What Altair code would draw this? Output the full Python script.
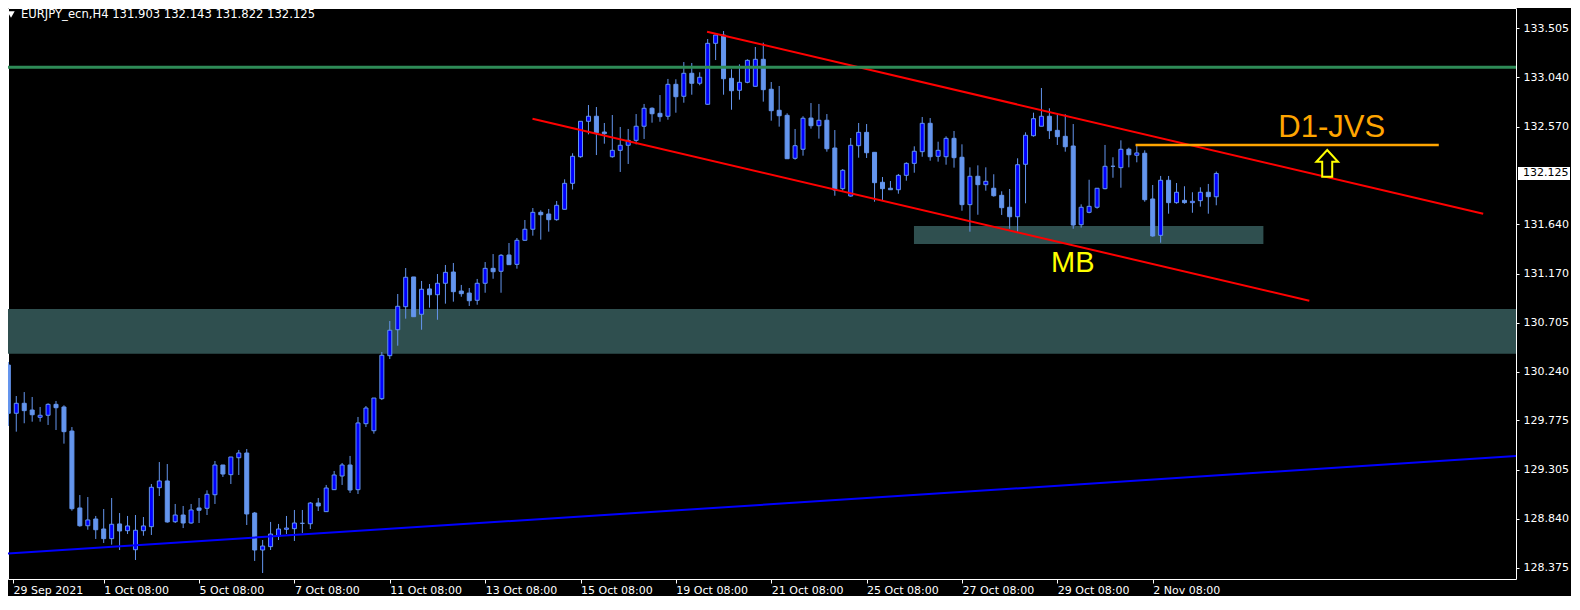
import altair as alt
import pandas as pd

# ---- candle data (EURJPY H4), index 0 = leftmost bar ----
opens = [130.302,129.843,129.938,129.874,129.805,129.824,129.928,129.903,129.674,128.942,
         128.773,128.837,128.742,128.650,128.790,128.726,128.545,128.726,128.764,129.135,
         129.199,128.811,128.875,128.799,128.942,128.939,129.068,129.351,129.259,129.420,
         129.465,128.894,128.542,128.574,128.675,128.739,128.745,128.796,128.792,128.989,
         128.907,129.116,129.246,129.351,129.116,129.744,129.677,129.982,130.391,130.638,
         130.857,131.140,130.785,131.026,130.971,131.080,131.187,131.006,130.987,130.918,
         131.080,131.222,131.194,131.349,131.260,131.489,131.594,131.755,131.739,131.685,
         131.784,132.031,132.284,132.621,132.669,132.519,132.284,132.345,132.393,132.440,
         132.574,132.745,132.697,132.669,132.973,132.859,133.078,132.983,132.783,133.363,
         133.442,133.030,132.916,132.992,132.954,133.211,132.926,132.726,132.678,132.269,
         132.355,132.652,132.579,132.631,132.367,131.980,131.910,132.389,132.516,132.326,
         132.041,131.984,131.970,132.107,132.221,132.332,132.602,132.288,132.284,132.459,
         132.279,131.828,132.098,132.018,131.984,131.917,131.803,131.713,132.212,132.484,
         132.574,132.669,132.535,132.478,132.386,131.637,131.755,131.803,131.980,132.193,
         132.180,132.355,132.298,132.317,131.882,131.536,132.060,131.847,131.869,131.847,
         131.866,131.946,131.903]
highs = [130.331,130.007,130.045,129.998,129.903,129.938,129.960,129.919,129.712,129.065,
         129.046,128.866,128.932,129.037,128.894,128.866,128.875,128.856,129.170,129.379,
         129.360,128.980,128.961,128.980,129.037,129.110,129.389,129.351,129.427,129.494,
         129.503,128.904,128.637,128.809,128.790,128.866,128.923,128.923,128.999,129.037,
         129.161,129.294,129.370,129.437,129.808,129.912,129.988,130.426,130.721,130.978,
         131.225,131.140,131.102,131.073,131.168,131.254,131.273,131.064,131.035,131.121,
         131.282,131.358,131.358,131.463,131.511,131.682,131.796,131.774,131.787,131.863,
         132.069,132.317,132.621,132.776,132.757,132.605,132.681,132.567,132.548,132.690,
         132.786,132.754,132.871,133.024,133.021,133.185,133.176,133.087,133.404,133.442,
         133.480,133.116,133.163,133.211,133.328,133.369,132.995,132.957,132.697,132.548,
         132.669,132.795,132.786,132.690,132.538,132.167,132.462,132.605,132.595,132.326,
         132.091,132.053,132.120,132.231,132.383,132.662,132.652,132.427,132.478,132.529,
         132.402,132.183,132.202,132.183,132.117,131.955,131.977,132.269,132.516,132.703,
         132.938,132.745,132.688,132.688,132.595,131.831,132.065,131.984,132.396,132.279,
         132.440,132.370,132.402,132.345,132.015,132.101,132.101,132.034,132.003,131.946,
         131.993,132.025,132.143]
lows = [129.722,129.668,129.748,129.763,129.763,129.732,129.684,129.554,128.916,128.764,
        128.735,128.647,128.609,128.593,128.542,128.694,128.447,128.678,128.685,129.056,
        128.802,128.799,128.751,128.792,128.799,128.875,128.980,129.237,129.170,129.256,
        128.780,128.438,128.323,128.542,128.637,128.694,128.628,128.704,128.742,128.913,
        128.904,129.113,129.161,129.085,129.075,129.712,129.649,129.969,130.359,130.486,
        130.743,130.762,130.638,130.848,130.733,130.886,130.905,130.952,130.864,130.876,
        130.990,131.123,130.990,131.257,131.219,131.485,131.533,131.495,131.571,131.675,
        131.784,131.972,132.275,132.497,132.300,132.408,132.275,132.139,132.215,132.402,
        132.453,132.608,132.617,132.636,132.703,132.798,132.874,132.964,132.779,133.204,
        132.874,132.731,132.827,132.983,132.954,132.808,132.627,132.570,132.265,132.256,
        132.294,132.551,132.456,132.332,131.913,131.961,131.904,132.275,132.272,131.856,
        131.872,131.970,131.932,132.056,132.132,132.284,132.246,132.237,132.208,132.180,
        131.770,131.571,131.732,131.961,131.904,131.730,131.599,131.571,131.841,132.475,
        132.574,132.453,132.396,132.332,131.599,131.609,131.746,131.790,131.974,132.084,
        131.989,132.183,132.231,131.856,131.523,131.466,131.742,131.837,131.837,131.751,
        131.809,131.742,131.822]
closes = [129.843,129.938,129.868,129.829,129.824,129.928,129.896,129.668,128.935,128.773,
          128.828,128.735,128.650,128.787,128.723,128.771,128.730,128.771,129.139,129.199,
          128.809,128.875,128.799,128.923,128.920,129.072,129.351,129.265,129.427,129.465,
          128.885,128.542,128.580,128.694,128.742,128.751,128.799,128.796,128.989,128.961,
          129.132,129.256,129.351,129.113,129.751,129.893,129.988,130.395,130.633,130.861,
          131.137,130.762,131.023,130.971,131.080,131.184,131.000,130.981,130.914,131.080,
          131.222,131.190,131.346,131.257,131.489,131.594,131.755,131.732,131.685,131.822,
          132.031,132.288,132.621,132.669,132.512,132.503,132.345,132.393,132.440,132.574,
          132.745,132.693,132.665,132.973,132.855,133.078,132.983,133.040,133.363,133.442,
          133.026,132.912,132.992,133.201,133.211,132.922,132.722,132.674,132.265,132.389,
          132.650,132.579,132.631,132.360,131.967,132.155,132.393,132.516,132.322,132.037,
          131.980,131.970,132.107,132.221,132.336,132.602,132.284,132.345,132.459,132.275,
          131.828,132.098,132.018,132.050,131.913,131.799,131.713,132.208,132.488,132.646,
          132.669,132.532,132.475,132.379,131.634,131.803,131.812,131.984,132.193,132.193,
          132.355,132.303,132.320,131.875,131.530,132.060,131.847,131.946,131.847,131.860,
          131.946,131.904,132.125]

# ---- axis ticks ----
tick_idx = [0.5875, 12, 24, 36, 48, 60, 72, 84, 96, 108, 120, 132, 144]
tick_labels = ["29 Sep 2021", "1 Oct 08:00", "5 Oct 08:00", "7 Oct 08:00", "11 Oct 08:00",
               "13 Oct 08:00", "15 Oct 08:00", "19 Oct 08:00", "21 Oct 08:00", "25 Oct 08:00",
               "27 Oct 08:00", "29 Oct 08:00", "2 Nov 08:00"]
price_ticks = [133.505, 133.040, 132.570, 131.640, 131.170, 130.705, 130.240,
               129.775, 129.305, 128.840, 128.375]
last_price = 132.125
header = "EURJPY_ecn,H4  131.903 132.143 131.822 132.125"

# ---- drawn objects (bar index / price coordinates) ----
line_x1 = [87.925, 65.96, -1.0, -1.0, 141.84]
line_y1 = [133.474, 132.646, 128.504, 133.135, 132.396]
line_x2 = [185.59, 163.71, 190.0, 190.0, 180.0]
line_y2 = [131.741, 130.914, 129.437, 133.135, 132.396]
line_col = ["#FF0000", "#FF0000", "#0000FF", "#2E8B57", "#FFA500"]
line_w = [2, 2, 2, 3, 2.5]

zone_x1 = [-5.0, 113.96]
zone_x2 = [195.0, 157.93]
zone_y1 = [130.410, 131.454]
zone_y2 = [130.835, 131.625]

label_x = [159.8, 131.2]
label_y = [132.469, 131.190]
label_txt = ["D1-JVS", "MB"]
label_col = ["#FFA500", "#FFFF00"]
label_size = [31, 29]

arrow_x = [165.96]
arrow_y = [132.221]

X_DOMAIN = [0.5875, 189.0875]
Y_DOMAIN = [128.2662, 133.6991]
W, H = 1508, 571

candles = pd.DataFrame({"i": list(range(len(opens))), "open": opens, "high": highs,
                        "low": lows, "close": closes})
lines = pd.DataFrame({"x1": line_x1, "y1": line_y1, "x2": line_x2, "y2": line_y2,
                      "c": line_col, "w": line_w})
zones = pd.DataFrame({"x1": zone_x1, "x2": zone_x2, "y1": zone_y1, "y2": zone_y2})
labels = pd.DataFrame({"x": label_x, "y": label_y, "t": label_txt, "c": label_col, "s": label_size})
arrows = pd.DataFrame({"x": arrow_x, "y": arrow_y})
price_df = pd.DataFrame({"p": [last_price], "label": [f"{last_price:.3f}"]})
head_df = pd.DataFrame({"t": [header]})

xs = alt.Scale(domain=X_DOMAIN, nice=False, zero=False)
ys = alt.Scale(domain=Y_DOMAIN, nice=False, zero=False)

label_expr = "[" + ",".join("'" + s + "'" for s in tick_labels) + "][round(datum.value/12)]"

x_axis = alt.Axis(values=tick_idx, labelExpr=label_expr, labelAlign="left", labelBaseline="top",
                  labelFlush=False, labelOverlap=False, tickSize=4, labelPadding=1,
                  title=None, grid=False, domain=False, labelColor="white", tickColor="white",
                  labelFont="DejaVu Sans", labelFontSize=11, orient="bottom")
y_axis = alt.Axis(values=price_ticks, format=".3f", orient="right", tickSize=3, labelPadding=4,
                  title=None, grid=False, domain=False, labelColor="white", tickColor="white",
                  labelFont="DejaVu Sans", labelFontSize=11, labelOverlap=False, labelFlush=False)


def X(field):
    return alt.X(field, scale=xs, axis=x_axis, title=None)


def Y(field):
    return alt.Y(field, scale=ys, axis=y_axis, title=None)


zone_layer = alt.Chart(zones).mark_rect(color="#2F4F4F", clip=True).encode(
    x=X("x1:Q"), x2="x2:Q", y=Y("y1:Q"), y2="y2:Q")

wicks = alt.Chart(candles).mark_rule(color="#6495ED", strokeWidth=1, clip=True).encode(
    x=X("i:Q"), y=Y("low:Q"), y2="high:Q")

bodies = alt.Chart(candles).mark_bar(size=4, stroke="#6495ED", strokeWidth=1, clip=True).encode(
    x=X("i:Q"), y=Y("open:Q"), y2="close:Q",
    fill=alt.when(alt.datum.close >= alt.datum.open).then(alt.value("#0000FF")).otherwise(alt.value("#6495ED")))

line_layer = alt.Chart(lines).mark_rule(clip=True).encode(
    x=X("x1:Q"), x2="x2:Q", y=Y("y1:Q"), y2="y2:Q",
    color=alt.Color("c:N", scale=None),
    strokeWidth=alt.StrokeWidth("w:Q", scale=None))

text_layer = alt.Chart(labels).mark_text(align="left", baseline="alphabetic",
                                         font="Liberation Sans").encode(
    x=X("x:Q"), y=Y("y:Q"),
    text="t:N", color=alt.Color("c:N", scale=None), size=alt.Size("s:Q", scale=None))

arrow_path = "M0,-1L0.81,-0.12L0.375,-0.12L0.375,1L-0.375,1L-0.375,-0.12L-0.81,-0.12Z"
arrow_layer = alt.Chart(arrows).mark_point(shape=arrow_path, size=713, filled=True, fill="black",
                                           fillOpacity=1, stroke="#FFFF00", strokeWidth=2,
                                           strokeOpacity=1, opacity=1).encode(
    x=X("x:Q"), y=Y("y:Q"))

price_box = alt.Chart(price_df).mark_rect(color="white", yOffset=-6.5, y2Offset=6.5).encode(
    x=alt.value(1510), x2=alt.value(1562), y=Y("p:Q"), y2="p:Q")
price_txt = alt.Chart(price_df).mark_text(align="left", baseline="middle", font="DejaVu Sans",
                                          fontSize=11, color="black").encode(
    x=alt.value(1515), y=Y("p:Q"), text="label:N")

head_txt = alt.Chart(head_df).mark_text(align="left", baseline="middle", font="DejaVu Sans",
                                        fontSize=11.6, color="white").encode(
    x=alt.value(13), y=alt.value(7), text="t:N")
head_tri = alt.Chart(head_df).mark_point(shape="triangle-down", filled=True, color="white",
                                         size=55, opacity=1).encode(
    x=alt.value(3), y=alt.value(6.5))

chart = alt.layer(zone_layer, wicks, bodies, line_layer, text_layer, arrow_layer,
                  price_box, price_txt, head_txt, head_tri).properties(
    width=W, height=H,
    padding={"left": 0, "top": 0, "right": 55, "bottom": 17},
    autosize=alt.AutoSizeParams(type="none"),
    background="black",
).configure_view(stroke="white", strokeWidth=1)

chart.save("out.html", embed_options={"renderer": "svg", "actions": False})
